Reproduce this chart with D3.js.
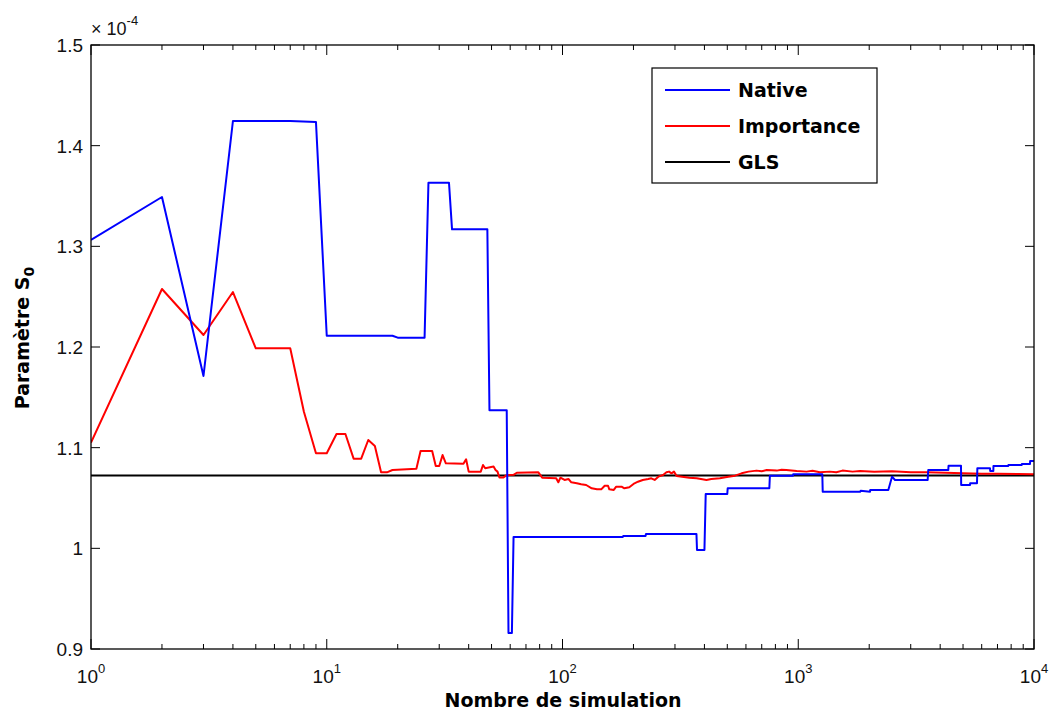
<!DOCTYPE html>
<html>
<head>
<meta charset="utf-8">
<script src="https://cdn.jsdelivr.net/npm/d3@7"></script>
<style>
  html, body { margin: 0; padding: 0; background: #fff; }
  svg { display: block; }
</style>
</head>
<body>
<svg id="chart" width="1051" height="713"></svg>
<script>
// ---- data (values in units of 1e-4) ----
const nativeData = [
  [1, 1.3063], [2, 1.349], [3, 1.1712], [4, 1.4245], [7, 1.4245], [9, 1.4235],
  [10, 1.2112], [19, 1.2112], [20, 1.2093], [26, 1.2093], [27, 1.3632], [33, 1.3632],
  [34, 1.3169], [48, 1.3169], [49, 1.1371], [58, 1.1371], [59, 0.9159], [61, 0.9159],
  [62, 1.0113], [180, 1.0113], [181, 1.0123], [225, 1.0123], [226, 1.0143], [370, 1.0143],
  [372, 0.9984], [400, 0.9984], [405, 1.0540], [500, 1.0540], [502, 1.0597], [754, 1.0597],
  [758, 1.0722], [950, 1.0722], [952, 1.0736], [1265, 1.0736], [1270, 1.0563], [1830, 1.0563],
  [1840, 1.0573], [2016, 1.0563], [2020, 1.0580], [2410, 1.0580], [2499, 1.0712], [2573, 1.0679],
  [3540, 1.0679], [3560, 1.0778], [4330, 1.0778], [4340, 1.0821], [4902, 1.0821], [4910, 1.0629],
  [5355, 1.0629], [5360, 1.0646], [5730, 1.0646], [5750, 1.0795], [6508, 1.0795], [6520, 1.0768],
  [6722, 1.0768], [6730, 1.0818], [7780, 1.0818], [7790, 1.0828], [8872, 1.0828], [8880, 1.0838],
  [9617, 1.0838], [9630, 1.0868], [10000, 1.0868]
];
const importanceData = [
  [1, 1.105], [2, 1.2576], [3, 1.2119], [4, 1.2546], [5, 1.1987], [6, 1.1987], [7, 1.1987],
  [8, 1.1357], [9, 1.0944], [10, 1.0944], [11, 1.1136], [12, 1.1136], [13, 1.0891], [14, 1.0891],
  [15, 1.1076], [16, 1.1017], [17, 1.0755], [18, 1.0755], [19, 1.0778], [24, 1.0791],
  [25, 1.0967], [28, 1.0967], [29, 1.0818], [30, 1.0818], [31, 1.0927], [32, 1.0845],
  [38, 1.0840], [39, 1.0885], [40, 1.0762], [45, 1.0762], [46, 1.0828], [47, 1.0795],
  [51, 1.0812], [52, 1.0778], [53, 1.0762], [54, 1.0703], [56, 1.0703], [58, 1.0727],
  [62, 1.0730], [64, 1.0751], [79, 1.0755], [82, 1.0702], [94, 1.0696], [96, 1.0656],
  [98, 1.0702], [102, 1.0679], [106, 1.0689], [109, 1.0656], [115, 1.0646], [120, 1.0636],
  [126, 1.0629], [133, 1.0596], [140, 1.0586], [146, 1.0586], [151, 1.0622], [156, 1.0622],
  [158, 1.0586], [165, 1.0580], [169, 1.0613], [178, 1.0613], [183, 1.0596], [192, 1.0606],
  [202, 1.0646], [209, 1.0662], [219, 1.0679], [231, 1.0689], [238, 1.0696], [246, 1.0679],
  [255, 1.0712], [267, 1.0729], [276, 1.0755], [283, 1.0762], [290, 1.0745], [297, 1.0762],
  [305, 1.0719], [345, 1.0702], [371, 1.0696], [408, 1.0679], [428, 1.0689], [465, 1.0696],
  [505, 1.0712], [540, 1.0722], [575, 1.0745], [615, 1.0762], [665, 1.0772], [700, 1.0765],
  [735, 1.0778], [810, 1.0772], [850, 1.0780], [890, 1.0778], [985, 1.0768], [1085, 1.0762],
  [1150, 1.0770], [1235, 1.0755], [1360, 1.0762], [1450, 1.0755], [1540, 1.0772], [1700, 1.0762],
  [1830, 1.0768], [2100, 1.0760], [2500, 1.0766], [3000, 1.0757], [3500, 1.0755], [4200, 1.0750],
  [5000, 1.0745], [6000, 1.0742], [7000, 1.0740], [8500, 1.0738], [10000, 1.0737]
];
const glsValue = 1.0724;
const yTickValues = [0.9, 1, 1.1, 1.2, 1.3, 1.4, 1.5];
const yTickLabels = ["0.9", "1", "1.1", "1.2", "1.3", "1.4", "1.5"];
const xTickExponents = [0, 1, 2, 3, 4];
const seriesNames = ["Native", "Importance", "GLS"];
const seriesColors = ["#0000ff", "#ff0000", "#000000"];

(function () {
// ---- layout ----
const pL = 91, pR = 1034, pT = 45, pB = 649;
const svg = d3.select("#chart");
const x = d3.scaleLog().domain([1, 10000]).range([pL, pR]);
const y = d3.scaleLinear().domain([0.9, 1.5]).range([pB, pT]);

svg.append("defs").append("clipPath").attr("id", "clip")
  .append("rect").attr("x", pL).attr("y", pT)
  .attr("width", pR - pL).attr("height", pB - pT);

const line = d3.line().x(d => x(d[0])).y(d => y(d[1]));
const plot = svg.append("g").attr("clip-path", "url(#clip)");

plot.append("path").datum([[1, glsValue], [10000, glsValue]])
  .attr("d", line).attr("fill", "none").attr("stroke", seriesColors[2]).attr("stroke-width", 2);
plot.append("path").datum(importanceData)
  .attr("d", line).attr("fill", "none").attr("stroke", seriesColors[1]).attr("stroke-width", 2)
  .attr("stroke-linejoin", "round");
plot.append("path").datum(nativeData)
  .attr("d", line).attr("fill", "none").attr("stroke", seriesColors[0]).attr("stroke-width", 2)
  .attr("stroke-linejoin", "round");

// ---- axes ----
const tickFont = "'Liberation Sans', Arial, sans-serif";
const majorX = xTickExponents.map(e => Math.pow(10, e));
const minorX = [];
for (let e = 0; e < 4; e++) for (let k = 2; k <= 9; k++) minorX.push(k * Math.pow(10, e));

const axG = svg.append("g");
axG.append("rect").attr("x", pL).attr("y", pT).attr("width", pR - pL).attr("height", pB - pT)
  .attr("fill", "none").attr("stroke", "#000").attr("stroke-width", 1.3);

const tickG = axG.append("g").attr("stroke", "#000").attr("stroke-width", 1);
majorX.forEach(v => {
  tickG.append("line").attr("x1", x(v)).attr("x2", x(v)).attr("y1", pB).attr("y2", pB - 10);
  tickG.append("line").attr("x1", x(v)).attr("x2", x(v)).attr("y1", pT).attr("y2", pT + 10);
});
minorX.forEach(v => {
  tickG.append("line").attr("x1", x(v)).attr("x2", x(v)).attr("y1", pB).attr("y2", pB - 5);
  tickG.append("line").attr("x1", x(v)).attr("x2", x(v)).attr("y1", pT).attr("y2", pT + 5);
});
yTickValues.forEach(v => {
  tickG.append("line").attr("x1", pL).attr("x2", pL + 9).attr("y1", y(v)).attr("y2", y(v));
  tickG.append("line").attr("x1", pR).attr("x2", pR - 9).attr("y1", y(v)).attr("y2", y(v));
});

yTickValues.forEach((v, i) => {
  axG.append("text").attr("x", pL - 8).attr("y", y(v)).attr("dy", "0.36em")
    .attr("text-anchor", "end").attr("font-family", tickFont).attr("font-size", 19)
    .attr("fill", "#111").text(yTickLabels[i]);
});

xTickExponents.forEach((e, i) => {
  const t = axG.append("text").attr("x", x(majorX[i])).attr("y", 683)
    .attr("text-anchor", "middle").attr("font-family", tickFont).attr("font-size", 19).attr("fill", "#111");
  t.append("tspan").text("10");
  t.append("tspan").attr("font-size", 13).attr("dy", -10).text(String(e));
});

const ex = axG.append("text").attr("x", 91).attr("y", 35)
  .attr("font-family", tickFont).attr("font-size", 18).attr("fill", "#111");
ex.append("tspan").text("× 10");
ex.append("tspan").attr("font-size", 13).attr("dy", -10).text("-4");

const labelFont = "'DejaVu Sans', sans-serif";
svg.append("text").attr("x", 563).attr("y", 707).attr("text-anchor", "middle")
  .attr("font-family", labelFont).attr("font-weight", "bold").attr("font-size", 19)
  .attr("fill", "#000").text("Nombre de simulation");

const yl = svg.append("text").attr("transform", "translate(29,338) rotate(-90)")
  .attr("text-anchor", "middle").attr("font-family", labelFont).attr("font-weight", "bold")
  .attr("font-size", 19).attr("fill", "#000");
yl.append("tspan").text("Paramètre S");
yl.append("tspan").attr("font-size", 14).attr("dy", 5).text("0");

const lg = svg.append("g");
lg.append("rect").attr("x", 652).attr("y", 68).attr("width", 225).attr("height", 115)
  .attr("fill", "#fff").attr("stroke", "#000").attr("stroke-width", 1.2);
seriesNames.forEach((name, i) => {
  const yy = 90 + i * 36;
  lg.append("line").attr("x1", 665).attr("x2", 730).attr("y1", yy).attr("y2", yy)
    .attr("stroke", seriesColors[i]).attr("stroke-width", 2);
  lg.append("text").attr("x", 738).attr("y", yy).attr("dy", "0.36em")
    .attr("font-family", labelFont).attr("font-weight", "bold").attr("font-size", 19)
    .attr("fill", "#000").text(name);
});
})();
</script>
</body>
</html>
